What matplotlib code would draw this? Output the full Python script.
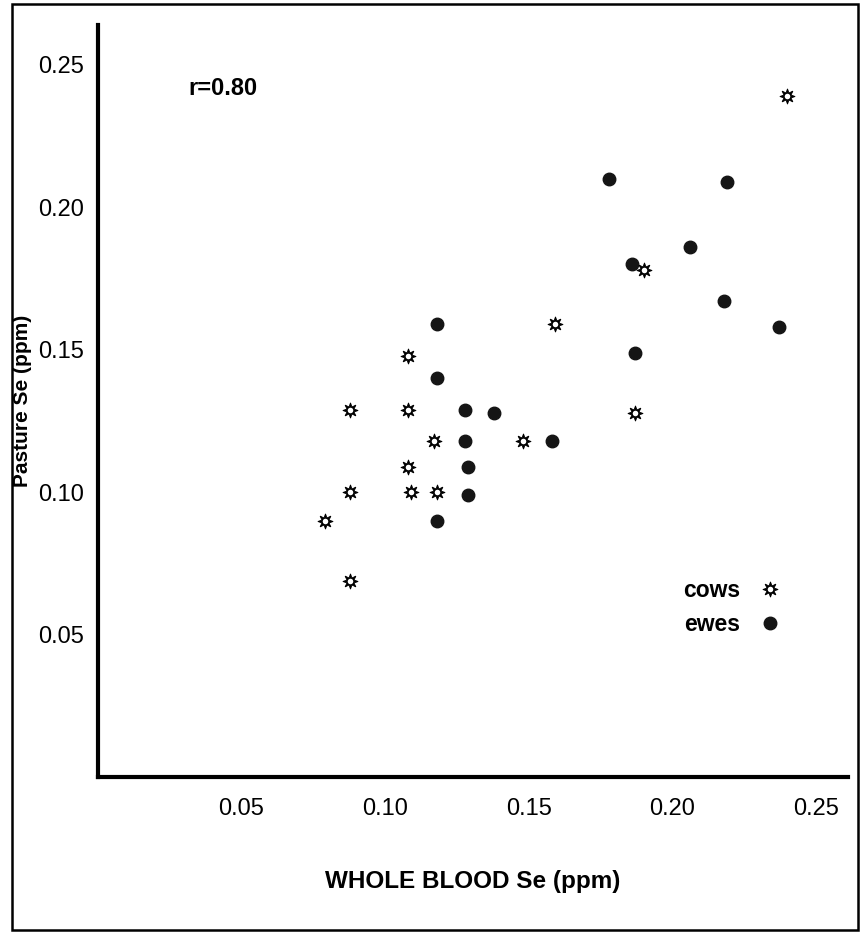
import matplotlib.pyplot as plt
import matplotlib.patches as patches
from matplotlib.legend_handler import HandlerTuple

# whole blood Se (ppm) vs pasture Se (ppm)
cows_blood = [0.240, 0.159, 0.108, 0.088, 0.108, 0.117, 0.148, 0.108, 0.088, 0.109, 0.118, 0.079, 0.088, 0.190, 0.187]
cows_pasture = [0.239, 0.159, 0.148, 0.129, 0.129, 0.118, 0.118, 0.109, 0.100, 0.100, 0.100, 0.090, 0.069, 0.178, 0.128]

ewes_blood = [0.118, 0.118, 0.128, 0.138, 0.128, 0.158, 0.129, 0.129, 0.118, 0.178, 0.219, 0.206, 0.186, 0.218, 0.237, 0.187]
ewes_pasture = [0.159, 0.140, 0.129, 0.128, 0.118, 0.118, 0.109, 0.099, 0.090, 0.210, 0.209, 0.186, 0.180, 0.167, 0.158, 0.149]

ticks = [0.05, 0.10, 0.15, 0.20, 0.25]
tick_labels = ["0.05", "0.10", "0.15", "0.20", "0.25"]

plt.rcParams['font.family'] = ['Liberation Sans', 'DejaVu Sans']

fig = plt.figure(figsize=(8.63, 9.34), dpi=100)
ax = fig.add_axes([0.113, 0.1676, 0.8696, 0.8056])

# ewes: filled dots
ewe_line, = ax.plot(ewes_blood, ewes_pasture, linestyle='none', marker='o', ms=9,
                    mfc='#151515', mec='#151515', zorder=3)
# cows: open sun-like star (black star with white centre)
cow_star, = ax.plot(cows_blood, cows_pasture, linestyle='none', marker=(8, 1, 0), ms=11,
                    mfc='black', mec='black', mew=0.6, zorder=4)
cow_hole, = ax.plot(cows_blood, cows_pasture, linestyle='none', marker='o', ms=4,
                    mfc='white', mec='white', mew=0, zorder=5)

ax.set_xlim(0, 0.2611)
ax.set_ylim(0, 0.264)
ax.set_xticks(ticks)
ax.set_xticklabels(tick_labels)
ax.set_yticks(ticks)
ax.set_yticklabels(tick_labels)
ax.tick_params(axis='both', length=0, labelsize=17)
ax.tick_params(axis='x', pad=15)
ax.tick_params(axis='y', pad=10)

for side in ['top', 'right']:
    ax.spines[side].set_visible(False)
for side in ['left', 'bottom']:
    ax.spines[side].set_linewidth(3)
    ax.spines[side].set_color('black')

ax.set_xlabel("WHOLE BLOOD Se (ppm)", fontsize=17.5, fontweight='bold', labelpad=36)
ax.set_ylabel("Pasture Se (ppm)", fontsize=15, fontweight='bold', labelpad=4)

ax.text(0.0315, 0.2416, "r=0.80", fontsize=17, fontweight='bold', ha='left', va='center')

leg = ax.legend([(cow_star, cow_hole), ewe_line], ["cows", "ewes"],
                handler_map={tuple: HandlerTuple(ndivide=1)},
                markerfirst=False, frameon=False, loc='center left',
                bbox_to_anchor=(0.78, 0.226), borderaxespad=0, borderpad=0,
                handlelength=1.0, handletextpad=0.8, labelspacing=0.45,
                prop={'weight': 'bold', 'size': 16.5})

# scanned page border
fig.patches.append(patches.Rectangle((12 / 863, 4 / 934), 846 / 863, 926 / 934,
                                     transform=fig.transFigure, fill=False,
                                     edgecolor='black', linewidth=1.8))

fig.savefig("out.png", dpi=100)
